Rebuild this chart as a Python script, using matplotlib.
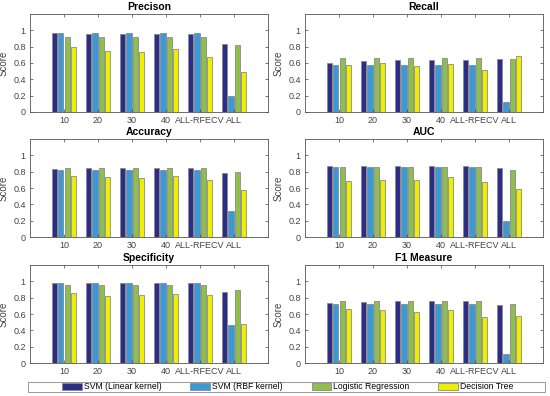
import matplotlib.pyplot as plt
from matplotlib.patches import Rectangle
import numpy as np

plt.rcParams['font.family'] = ['Liberation Sans', 'DejaVu Sans']

groups = ['10', '20', '30', '40', 'ALL-RFECV', 'ALL']
models = ['SVM (Linear kernel)', 'SVM (RBF kernel)', 'Logistic Regression', 'Decision Tree']
colors = ['#2b2d86', '#3a9ad8', '#8cbf4c', '#eeee00']

# rows: model, cols: group
precision = [[0.97, 0.955, 0.95, 0.95, 0.95, 0.83],
             [0.97, 0.97, 0.97, 0.97, 0.97, 0.20],
             [0.92, 0.92, 0.92, 0.92, 0.92, 0.82],
             [0.80, 0.75, 0.73, 0.77, 0.67, 0.49]]
recall = [[0.60, 0.63, 0.64, 0.64, 0.64, 0.65],
          [0.58, 0.58, 0.58, 0.58, 0.58, 0.12],
          [0.66, 0.66, 0.66, 0.66, 0.66, 0.65],
          [0.58, 0.60, 0.56, 0.59, 0.51, 0.69]]
accuracy = [[0.83, 0.84, 0.84, 0.84, 0.84, 0.78],
            [0.82, 0.82, 0.82, 0.82, 0.82, 0.32],
            [0.84, 0.84, 0.84, 0.84, 0.84, 0.80],
            [0.75, 0.73, 0.72, 0.75, 0.70, 0.57]]
auc = [[0.87, 0.87, 0.87, 0.87, 0.87, 0.84],
       [0.86, 0.86, 0.86, 0.86, 0.86, 0.20],
       [0.86, 0.86, 0.86, 0.86, 0.86, 0.82],
       [0.69, 0.70, 0.70, 0.73, 0.67, 0.59]]
specificity = [[0.98, 0.975, 0.975, 0.975, 0.975, 0.87],
               [0.98, 0.98, 0.98, 0.98, 0.98, 0.46],
               [0.96, 0.96, 0.96, 0.96, 0.96, 0.89],
               [0.86, 0.82, 0.83, 0.85, 0.83, 0.48]]
f1 = [[0.74, 0.75, 0.76, 0.76, 0.76, 0.71],
      [0.72, 0.72, 0.72, 0.72, 0.72, 0.11],
      [0.76, 0.76, 0.76, 0.76, 0.76, 0.72],
      [0.66, 0.65, 0.63, 0.65, 0.56, 0.57]]

panels = [('Precison', precision), ('Recall', recall),
          ('Accuracy', accuracy), ('AUC', auc),
          ('Specificity', specificity), ('F1 Measure', f1)]

fig = plt.figure(figsize=(5.5, 3.96), dpi=100)

lefts = [0.0545, 0.5545]
bottoms = [0.7172, 0.4015, 0.0833]
w, h = 0.433, 0.2475

x = np.arange(1, len(groups) + 1)
bw = 0.15
offs = [-0.27, -0.09, 0.09, 0.27]
axc = '#555555'

for k, (title, data) in enumerate(panels):
    ax = fig.add_axes([lefts[k % 2], bottoms[k // 2], w, h])
    for m in range(4):
        ax.bar(x + offs[m], data[m], bw, color=colors[m],
               edgecolor='#8a8a8a', linewidth=0.6, label=models[m])
    ax.set_xlim(0, 7)
    ax.set_ylim(0, 1.2)
    ax.set_yticks([0, 0.2, 0.4, 0.6, 0.8, 1])
    ax.set_yticklabels(['0', '0.2', '0.4', '0.6', '0.8', '1'])
    ax.set_xticks(x)
    ax.set_xticklabels(groups)
    ax.set_ylabel('Score', fontsize=7, color='#444444', labelpad=3)
    ax.set_title(title, fontsize=7.5, fontweight='bold', pad=3)
    ax.tick_params(labelsize=6.5, colors='#444444', length=2, width=0.5,
                   direction='in', top=True, right=True, pad=3)
    for s in ax.spines.values():
        s.set_color(axc)
        s.set_linewidth(0.6)

# legend frame spans nearly the full width, entries spread inside it
fig.patches.append(Rectangle((0.051, 0.0101), 0.94, 0.0253,
                             transform=fig.transFigure, fill=False,
                             edgecolor='#888888', linewidth=0.6))

handles, labels = ax.get_legend_handles_labels()
leg = fig.legend(handles, labels, ncol=4, mode='expand',
                 bbox_to_anchor=(0.113, 0.0101, 0.82, 0.0253), loc='center left',
                 fontsize=6.2, handlelength=2.3, handleheight=0.8,
                 borderaxespad=0, frameon=False,
                 borderpad=0, handletextpad=0.2)

plt.savefig('out.png', dpi=100)
